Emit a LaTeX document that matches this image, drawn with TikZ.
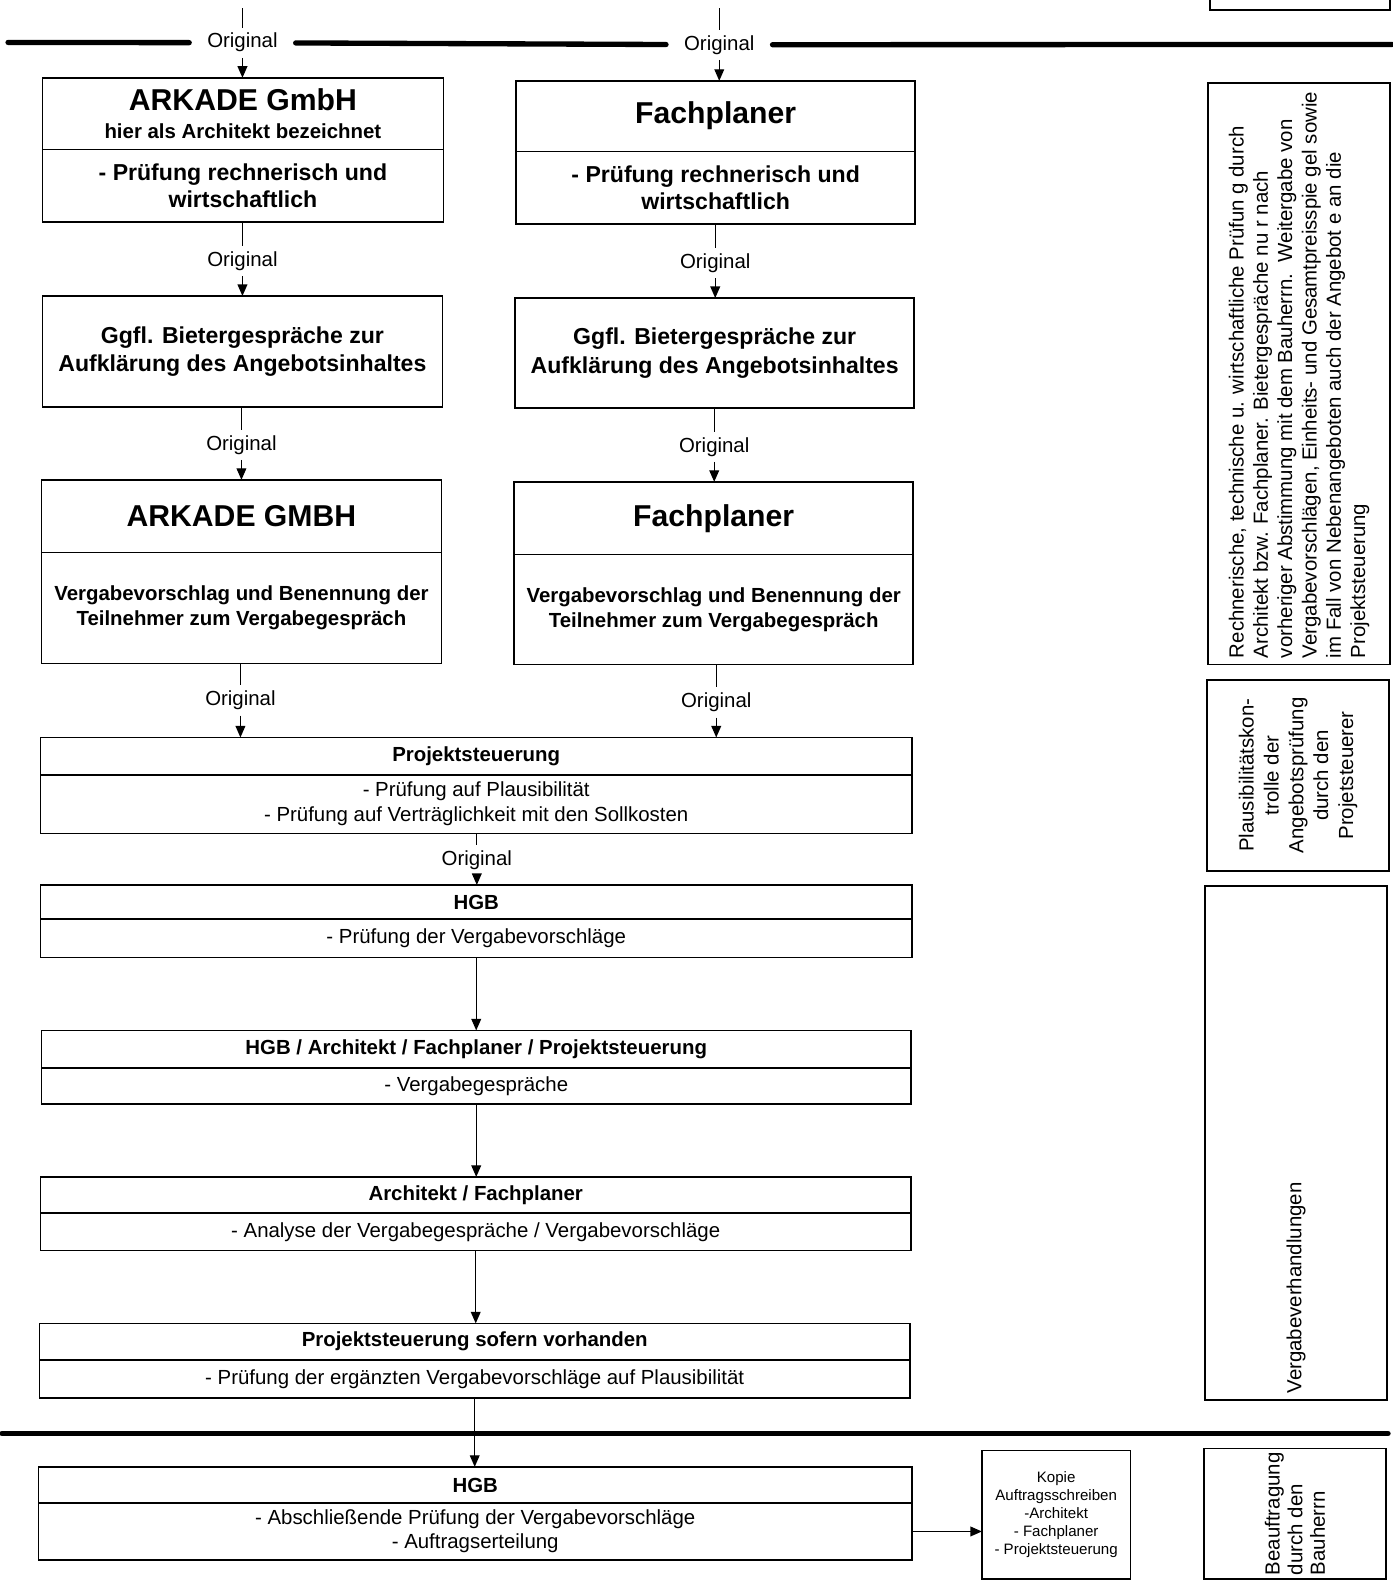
\documentclass[tikz,border=0pt]{standalone}
\usepackage{fontspec}
\setmainfont{Liberation Sans}
\usetikzlibrary{arrows.meta}

\begin{document}
\begin{tikzpicture}[x=0.02cm, y=-0.02cm,
    box/.style={draw, line width=0.9pt, inner sep=2pt, outer sep=0pt, align=center, anchor=north west},
    mid/.style={font=\fontsize{13}{15.5}\selectfont\bfseries},
    txt/.style={font=\fontsize{11.5}{14.2}\selectfont},
    txtb/.style={font=\fontsize{11.5}{14.2}\selectfont\bfseries},
    orig/.style={font=\fontsize{11.5}{14}\selectfont, inner xsep=1pt, inner ysep=3pt, yshift=-1.3pt},
    origbar/.style={orig, inner xsep=10pt},
    arr/.style={line width=0.7pt, -{Triangle[length=6.5pt,width=5.5pt]}},
    bar/.style={line width=3pt, line cap=round}]
    \useasboundingbox (0,0) rectangle (1378,1568);
    % top bar
    \coordinate (b0) at (8,42);
    \coordinate (b1) at (1378,44);
    \coordinate (t1) at (240,8);
    \coordinate (t2) at (712,8);
    \node[origbar] (o1) at (240,40) {Original};
    \node[origbar] (o2) at (712,42) {Original};
    \draw[bar] (b0) -- (o1) -- (o2) -- (b1);
    \draw[line width=0.7pt] (t1) -- (o1);
    \draw[line width=0.7pt] (t2) -- (o2);
    % left column
    \node[box, txtb, minimum width=7.94cm, minimum height=1.42cm] (l1h) at (42,77)
        {{\fontsize{17}{20}\selectfont ARKADE GmbH}\\[1.3pt]hier als Architekt bezeichnet};
    \node[box, mid, minimum width=7.94cm, minimum height=1.44cm] (l1b) at (l1h.south west)
        {- Prüfung rechnerisch und\\wirtschaftlich};
    \node[box, font=\fontsize{13}{15.9}\selectfont\bfseries, minimum width=7.92cm, minimum height=2.2cm] (l2) at (42,293)
        {Ggfl. Bietergespräche zur\\Aufklärung des Angebotsinhaltes};
    \node[box, font=\fontsize{17}{20}\selectfont\bfseries, minimum width=7.92cm, minimum height=1.44cm] (l3h) at (41,475)
        {ARKADE GMBH};
    \node[box, txtb, minimum width=7.92cm, minimum height=2.2cm] (l3b) at (l3h.south west)
        {Vergabevorschlag und Benennung der\\Teilnehmer zum Vergabegespräch};
    % right column
    \node[box, font=\fontsize{17}{20}\selectfont\bfseries, minimum width=7.9cm, minimum height=1.4cm] (r1h) at (511,80)
        {Fachplaner};
    \node[box, mid, minimum width=7.9cm, minimum height=1.44cm] (r1b) at (r1h.south west)
        {- Prüfung rechnerisch und\\wirtschaftlich};
    \node[box, font=\fontsize{13}{15.9}\selectfont\bfseries, minimum width=7.9cm, minimum height=2.18cm] (r2) at (510,295)
        {Ggfl. Bietergespräche zur\\Aufklärung des Angebotsinhaltes};
    \node[box, font=\fontsize{17}{20}\selectfont\bfseries, minimum width=7.9cm, minimum height=1.44cm] (r3h) at (509,477)
        {Fachplaner};
    \node[box, txtb, minimum width=7.9cm, minimum height=2.18cm] (r3b) at (r3h.south west)
        {Vergabevorschlag und Benennung der\\Teilnehmer zum Vergabegespräch};
    % full width boxes
    \node[box, txtb, minimum width=17.26cm, minimum height=0.74cm] (ph) at (40,730) {Projektsteuerung};
    \node[box, txt, minimum width=17.26cm, minimum height=1.16cm] (pb) at (ph.south west)
        {- Prüfung auf Plausibilität\\- Prüfung auf Verträglichkeit mit den Sollkosten};
    \node[box, txtb, minimum width=17.26cm, minimum height=0.68cm] (h1h) at (40,876) {HGB};
    \node[box, txt, minimum width=17.26cm, minimum height=0.76cm] (h1b) at (h1h.south west)
        {- Prüfung der Vergabevorschläge};
    \node[box, txtb, minimum width=17.22cm, minimum height=0.74cm] (vh) at (41,1020)
        {HGB / Architekt / Fachplaner / Projektsteuerung};
    \node[box, txt, minimum width=17.22cm, minimum height=0.72cm] (vb) at (vh.south west)
        {- Vergabegespräche};
    \node[box, txtb, minimum width=17.24cm, minimum height=0.72cm] (ah) at (40,1165)
        {Architekt / Fachplaner};
    \node[box, txt, minimum width=17.24cm, minimum height=0.74cm] (ab) at (ah.south west)
        {- Analyse der Vergabegespräche / Vergabevorschläge};
    \node[box, txtb, minimum width=17.24cm, minimum height=0.72cm] (sh) at (39,1310)
        {Projektsteuerung sofern vorhanden};
    \node[box, txt, minimum width=17.24cm, minimum height=0.76cm] (sb) at (sh.south west)
        {- Prüfung der ergänzten Vergabevorschläge auf Plausibilität};
    \node[box, txtb, minimum width=17.3cm, minimum height=0.72cm] (h2h) at (38,1452) {HGB};
    \node[box, font=\fontsize{11.5}{13.6}\selectfont, minimum width=17.3cm, minimum height=1.12cm] (h2b) at (h2h.south west)
        {- Abschließende Prüfung der Vergabevorschläge\\- Auftragserteilung};
    \node[box, font=\fontsize{8.5}{10.2}\selectfont, minimum width=2.94cm, minimum height=2.54cm] (kopie) at (972,1436)
        {Kopie\\Auftragsschreiben\\-Architekt\\- Fachplaner\\- Projektsteuerung};
    % labels Original
    \node[orig] (o3) at (240,256) {Original};
    \node[orig] (o4) at (708,258) {Original};
    \node[orig] (o5) at (239,438) {Original};
    \node[orig] (o6) at (707,440) {Original};
    \node[orig] (o7) at (238,691) {Original};
    \node[orig] (o8) at (709,693) {Original};
    \node[orig] (o9) at (472,849) {Original};
    % connectors
    \draw[arr] (o1) -- (o1 |- l1h.north);
    \draw[arr] (o2) -- (o2 |- r1h.north);
    \draw[line width=0.7pt] (o3 |- l1b.south) -- (o3);
    \draw[arr] (o3) -- (o3 |- l2.north);
    \draw[line width=0.7pt] (o4 |- r1b.south) -- (o4);
    \draw[arr] (o4) -- (o4 |- r2.north);
    \draw[line width=0.7pt] (o5 |- l2.south) -- (o5);
    \draw[arr] (o5) -- (o5 |- l3h.north);
    \draw[line width=0.7pt] (o6 |- r2.south) -- (o6);
    \draw[arr] (o6) -- (o6 |- r3h.north);
    \draw[line width=0.7pt] (o7 |- l3b.south) -- (o7);
    \draw[arr] (o7) -- (o7 |- ph.north);
    \draw[line width=0.7pt] (o8 |- r3b.south) -- (o8);
    \draw[arr] (o8) -- (o8 |- ph.north);
    \draw[line width=0.7pt] (o9 |- pb.south) -- (o9);
    \draw[arr] (o9) -- (o9 |- h1h.north);
    \draw[arr] (h1b.south) -- (h1b.south |- vh.north);
    \draw[arr] (vb.south) -- (vb.south |- ah.north);
    \draw[arr] (ab.south) -- (ab.south |- sh.north);
    % bottom bar
    \coordinate (c0) at (2,1419);
    \coordinate (c1) at (1374,1419);
    \draw[bar] (c0) -- (c1);
    \draw[arr] (sb.south) -- (sb.south |- h2h.north);
    \draw[arr] (h2b.east) -- (h2b.east -| kopie.west);
    % side boxes
    \draw[line width=0.9pt] (1198,-20) rectangle (1376,10);
    \node[box, minimum width=3.6cm, minimum height=11.52cm] (rt) at (1196,82) {};
    \node[font=\fontsize{11.5}{13.7}\selectfont, rotate=90, anchor=west, align=left, inner sep=0pt] (rttx)
        at ([yshift=3.5pt]rt.south) {Rechnerische, technische u. wirtschaftliche Prüfun g durch\\
        Architekt bzw. Fachplaner. Bietergespräche nu r nach\\
        vorheriger Abstimmung mit dem Bauherrn.\ \ Weitergabe von\\
        Vergabevorschlägen, Einheits- und Gesamtpreisspie gel sowie\\
        im Fall von Nebenangeboten auch der Angebot e an die\\
        Projektsteuerung};
    \node[box, minimum width=3.6cm, minimum height=3.78cm] (pl) at (1195,673) {};
    \node[font=\fontsize{11.5}{14}\selectfont, rotate=90, align=center] (pltx) at (pl.center)
        {Plausibilitätskon-\\trolle der\\Angebotsprüfung\\durch den\\Projetsteuerer};
    \node[box, minimum width=3.6cm, minimum height=10.18cm] (vv) at (1193,877) {};
    \node[txt, rotate=90, anchor=west, inner sep=0pt] (vvtx) at ([yshift=3.5pt]vv.south) {Vergabeverhandlungen};
    \node[box, minimum width=3.6cm, minimum height=2.58cm] (bea) at (1192,1434) {};
    \node[font=\fontsize{11.5}{12.75}\selectfont, rotate=90, anchor=west, align=left, inner sep=0pt] (beatx)
        at ([yshift=2pt]bea.south) {Beauftragung\\durch den\\Bauherrn};
\end{tikzpicture}
\end{document}
